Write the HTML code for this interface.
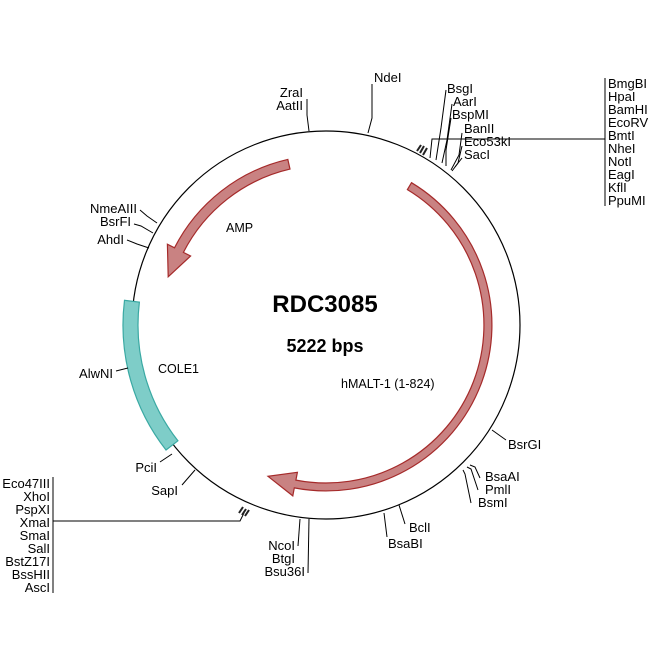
<!DOCTYPE html>
<html><head><style>
html,body{margin:0;padding:0;background:#fff;}
svg{display:block;font-family:"Liberation Sans",Arial,sans-serif;}
</style></head><body>
<svg width="650" height="650" viewBox="0 0 650 650" xmlns="http://www.w3.org/2000/svg">
<circle cx="326" cy="325" r="194" fill="none" stroke="#000" stroke-width="1.2"/>
<path d="M411.5 182.7 A166 166 0 0 1 294.3 487.9 L292.8 495.9 L268 476.3 L297.4 472.3 L295.9 480.1 A158 158 0 0 0 407.4 189.6 Z" fill="#c98282" stroke="#a52a2a" stroke-width="1.2"/>
<path d="M287.8 159.4 A170 170 0 0 0 174.5 247.8 L167.4 244.2 L168.2 276.8 L190.6 256 L183.4 252.4 A160 160 0 0 1 290 169.1 Z" fill="#c98282" stroke="#a52a2a" stroke-width="1.2"/>
<path d="M124.5 300.3 A203 203 0 0 0 166 450 L177.9 440.8 A188 188 0 0 1 139.4 302.1 Z" fill="#7ecdc8" stroke="#3aa9a3" stroke-width="1.2"/>
<text x="325" y="312" font-size="24" font-weight="bold" text-anchor="middle">RDC3085</text>
<text x="325" y="352" font-size="18" font-weight="bold" text-anchor="middle">5222 bps</text>
<g font-size="12.5">
<text x="226" y="232">AMP</text>
<text x="158" y="373">COLE1</text>
<text x="341" y="388">hMALT-1 (1-824)</text>
</g>
<g stroke="#000" stroke-width="1" fill="none">
<polyline points="307,99 307,115 309,131"/>
<polyline points="372,84 372,118 368,133"/>
<polyline points="446,90 441,128 436,160"/>
<polyline points="452,104 447,140 442,163"/>
<polyline points="451,118 446,150 446,166"/>
<polyline points="462,133 459,155 451,170"/>
<polyline points="462,146 458,163 452,171"/>
<polyline points="462,158 455,167"/>
<polyline points="430,158 432,139 605,139"/>
<line x1="605" y1="78" x2="605" y2="206"/>
<line x1="53" y1="477" x2="53" y2="593"/>
<polyline points="53,521 240,521 244,513"/>
<polyline points="160,462 172,454"/>
<polyline points="182,485 195,470"/>
<polyline points="298,546 300,519"/>
<polyline points="308,573 309,519"/>
<polyline points="405,524 399,505"/>
<polyline points="387,537 384,513"/>
<polyline points="506,440 492,430"/>
<polyline points="480,478 475,467 470,465"/>
<polyline points="478,490 471,469 467,467"/>
<polyline points="471,503 465,474 463,470"/>
<polyline points="140,210 147,216 157,223"/>
<polyline points="134,224 141,226 153,233"/>
<polyline points="127,240 137,244 149,248"/>
<polyline points="116,371 128,368"/>
</g>
<g stroke="#222" stroke-width="2">
<line x1="417" y1="151" x2="421" y2="145"/>
<line x1="420" y1="153" x2="424" y2="146"/>
<line x1="423" y1="155" x2="427" y2="148"/>
<line x1="239" y1="513" x2="243" y2="507"/>
<line x1="242" y1="515" x2="246" y2="509"/>
<line x1="245" y1="516" x2="249" y2="510"/>
</g>
<g font-size="13">
<text x="303" y="97" text-anchor="end">ZraI</text>
<text x="303" y="110" text-anchor="end">AatII</text>
<text x="374" y="82">NdeI</text>
<text x="447" y="93">BsgI</text>
<text x="453" y="106">AarI</text>
<text x="452" y="119">BspMI</text>
<text x="464" y="133">BanII</text>
<text x="464" y="146">Eco53kI</text>
<text x="464" y="159">SacI</text>
<text x="608" y="88">BmgBI</text>
<text x="608" y="101">HpaI</text>
<text x="608" y="114">BamHI</text>
<text x="608" y="127">EcoRV</text>
<text x="608" y="140">BmtI</text>
<text x="608" y="153">NheI</text>
<text x="608" y="166">NotI</text>
<text x="608" y="179">EagI</text>
<text x="608" y="192">KflI</text>
<text x="608" y="205">PpuMI</text>
<text x="137" y="213" text-anchor="end">NmeAIII</text>
<text x="131" y="226" text-anchor="end">BsrFI</text>
<text x="124" y="244" text-anchor="end">AhdI</text>
<text x="113" y="378" text-anchor="end">AlwNI</text>
<text x="157" y="472" text-anchor="end">PciI</text>
<text x="178" y="495" text-anchor="end">SapI</text>
<text x="50" y="488" text-anchor="end">Eco47III</text>
<text x="50" y="501" text-anchor="end">XhoI</text>
<text x="50" y="514" text-anchor="end">PspXI</text>
<text x="50" y="527" text-anchor="end">XmaI</text>
<text x="50" y="540" text-anchor="end">SmaI</text>
<text x="50" y="553" text-anchor="end">SalI</text>
<text x="50" y="566" text-anchor="end">BstZ17I</text>
<text x="50" y="579" text-anchor="end">BssHII</text>
<text x="50" y="592" text-anchor="end">AscI</text>
<text x="295" y="550" text-anchor="end">NcoI</text>
<text x="295" y="563" text-anchor="end">BtgI</text>
<text x="305" y="576" text-anchor="end">Bsu36I</text>
<text x="409" y="532">BclI</text>
<text x="388" y="548">BsaBI</text>
<text x="508" y="449">BsrGI</text>
<text x="485" y="481">BsaAI</text>
<text x="485" y="494">PmlI</text>
<text x="478" y="507">BsmI</text>
</g>
</svg>
</body></html>
